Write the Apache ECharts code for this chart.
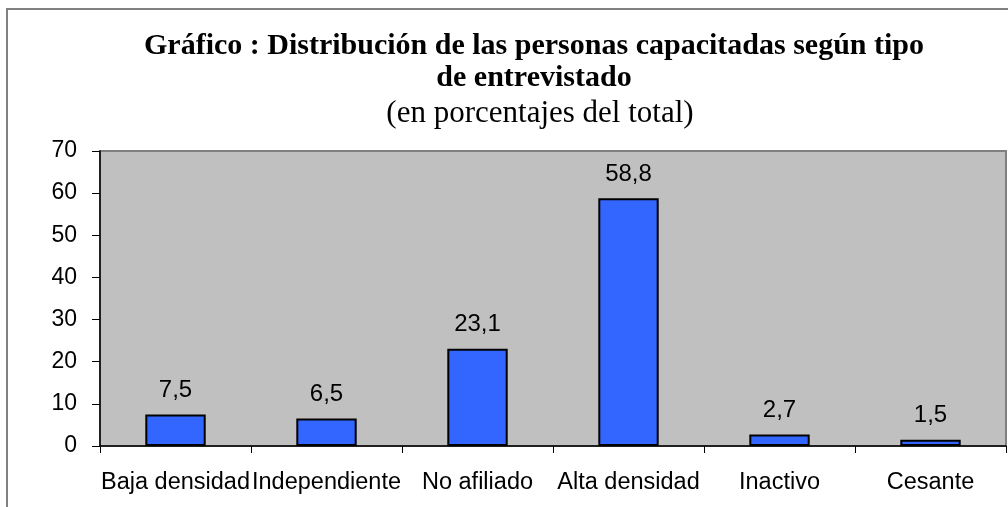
<!DOCTYPE html>
<html>
<head>
<meta charset="utf-8">
<script src="https://cdn.jsdelivr.net/npm/echarts@6/dist/echarts.min.js"></script>
<style>
    html, body { margin: 0; padding: 0; background: #fff; }
    #main { width: 1008px; height: 507px; }
</style>
</head>
<body>
<div id="main"></div>
<script>
// datos del gráfico
var categorias = ['Baja densidad', 'Independiente', 'No afiliado', 'Alta densidad', 'Inactivo', 'Cesante'];
var porcentajes = [7.5, 6.5, 23.1, 58.8, 2.7, 1.5];
var ejeY = { min: 0, max: 70, interval: 10 };

var myChart = echarts.init(document.getElementById('main'));

var option = {
    backgroundColor: '#fff',
    animation: false,
    title: [{
        text: 'Gráfico : Distribución de las personas capacitadas según tipo\nde entrevistado',
        left: 529,
        textAlign: 'center',
        top: 25,
        textStyle: {
            fontFamily: 'Liberation Serif',
            fontWeight: 'bold',
            fontSize: 30,
            lineHeight: 32,
            color: '#000'
        }
    }, {
        text: '(en porcentajes del total)',
        left: 535,
        textAlign: 'center',
        top: 93,
        textStyle: {
            fontFamily: 'Liberation Serif',
            fontWeight: 'normal',
            fontSize: 31,
            color: '#000'
        }
    }],
    graphic: [{
        type: 'rect',
        shape: { x: 7, y: 9, width: 1010, height: 510 },
        style: { fill: 'none', stroke: '#808080', lineWidth: 2 },
        silent: true
    }],
    grid: {
        left: 100,
        right: 2,
        top: 151,
        bottom: 61,
        show: true,
        backgroundColor: '#C0C0C0',
        borderColor: '#808080',
        borderWidth: 2
    },
    xAxis: {
        type: 'category',
        data: categorias,
        axisLine: { lineStyle: { color: '#000', width: 1.5 } },
        axisTick: { show: true, length: 7, lineStyle: { color: '#000' } },
        axisLabel: {
            interval: 0,
            margin: 25,
            fontFamily: 'Liberation Sans',
            fontSize: 23.5,
            color: '#000'
        }
    },
    yAxis: {
        type: 'value',
        min: ejeY.min,
        max: ejeY.max,
        interval: ejeY.interval,
        axisLine: { show: true, lineStyle: { color: '#000', width: 1.5 } },
        axisTick: { show: true, length: 8, lineStyle: { color: '#000' } },
        splitLine: { show: false },
        axisLabel: {
            margin: 23,
            fontFamily: 'Liberation Sans',
            fontSize: 23,
            color: '#000'
        }
    },
    series: [{
        type: 'bar',
        data: porcentajes,
        barWidth: '40%',
        itemStyle: {
            color: '#3366FF',
            borderColor: '#000',
            borderWidth: 2
        },
        label: {
            show: true,
            position: 'top',
            distance: 12,
            fontFamily: 'Liberation Sans',
            fontSize: 24,
            color: '#000',
            formatter: function (p) {
                return String(p.value).replace('.', ',');
            }
        }
    }]
};

myChart.setOption(option);
</script>
</body>
</html>
